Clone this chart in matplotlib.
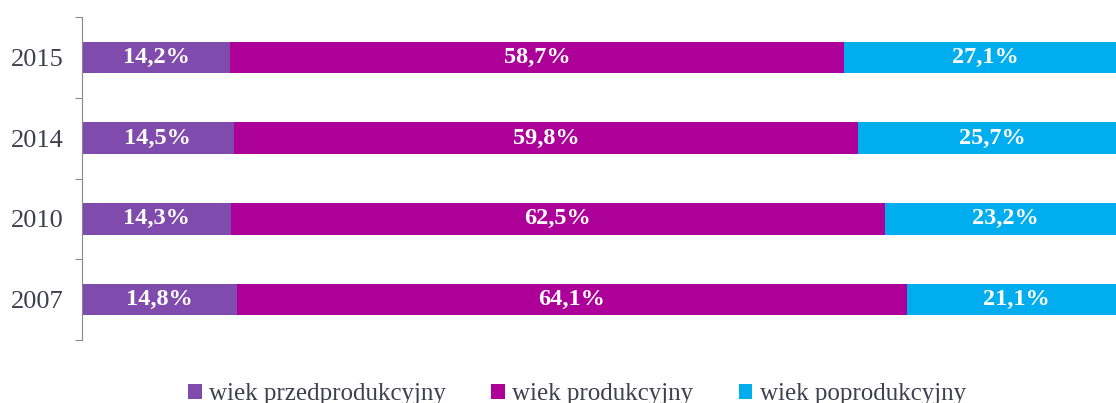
import matplotlib.pyplot as plt
from matplotlib.patches import Patch

years = ['2007', '2010', '2014', '2015']
przed = [14.8, 14.3, 14.5, 14.2]
prod = [64.1, 62.5, 59.8, 58.7]
poprod = [21.1, 23.2, 25.7, 27.1]

series_names = ['wiek przedprodukcyjny', 'wiek produkcyjny', 'wiek poprodukcyjny']
colors = ['#7F4BAD', '#AC0098', '#00AEEF']

plt.rcParams['font.family'] = ['Liberation Serif', 'DejaVu Serif']

fig = plt.figure(figsize=(11.16, 4.03), dpi=100)
# the chart in the reference is cut at the right edge, so the axes run past it
ax = fig.add_axes([82 / 1116, 1 - 340 / 403, 1045 / 1116, 323 / 403])

y = list(range(len(years)))
left = [0.0] * len(years)
for vals, col in zip([przed, prod, poprod], colors):
    ax.barh(y, vals, left=left, height=0.39, color=col, edgecolor='none')
    for yi, l, v in zip(y, left, vals):
        ax.text(l + v / 2, yi, f'{v:.1f}%'.replace('.', ','), ha='center', va='center',
                color='white', fontsize=17.5, fontweight='bold')
    left = [a + b for a, b in zip(left, vals)]

ax.set_xlim(0, 100)
ax.set_ylim(-0.5, len(years) - 0.5)
ax.set_xticks([])
ax.set_yticks([i - 0.5 for i in range(len(years) + 1)], minor=False)
ax.set_yticklabels([])
ax.set_yticks(y, minor=True)
ax.set_yticklabels(years, minor=True, fontsize=19, color='#3F3F4F')
ax.tick_params(axis='y', which='major', length=5, color='#888888', direction='out')
ax.tick_params(axis='y', which='minor', length=0, pad=13)
for s in ['top', 'right', 'bottom']:
    ax.spines[s].set_visible(False)
ax.spines['left'].set_color('#888888')

handles = [Patch(facecolor=c, edgecolor='none', label=n) for c, n in zip(colors, series_names)]
fig.legend(handles=handles, loc='center', bbox_to_anchor=(577 / 1116, 0.022), ncol=3,
           frameon=False, fontsize=18, handlelength=0.55, handleheight=0.55,
           handletextpad=0.3, columnspacing=1.8, labelcolor='#3F3F4F')

fig.savefig('out.png', dpi=100)
